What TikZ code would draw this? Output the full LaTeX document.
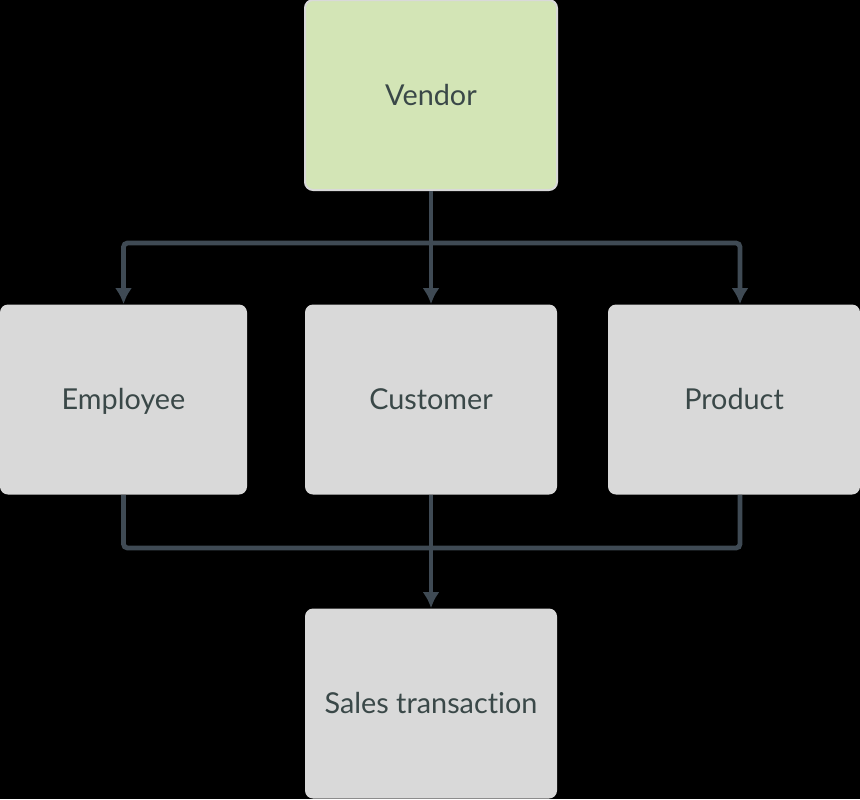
\documentclass[tikz,border=0pt]{standalone}
\usepackage{fontspec}
\setmainfont[Ligatures=NoCommon]{Lato}
\usetikzlibrary{arrows.meta}
\definecolor{boxgray}{HTML}{D9D9D9}
\definecolor{vendorgreen}{HTML}{D3E5B6}
\definecolor{linegray}{HTML}{3F4A54}
\definecolor{textgray}{HTML}{3A4848}
\begin{document}
\begin{tikzpicture}[
  x=0.5pt, y=-0.5pt,
  box/.style={fill=boxgray, rounded corners=4pt, minimum width=126pt, minimum height=95pt, inner sep=0pt, text height=10.4pt, text depth=0pt, font=\fontsize{14.4}{17}\selectfont, text=textgray},
  link/.style={draw=linegray, line width=2.4pt, rounded corners=2pt},
  arrow/.style={link, -{Latex[length=8pt, width=8.5pt]}},
]
  % background
  \fill[black] (0,0) rectangle (860,799);
  \useasboundingbox (0,0) rectangle (860,799);

  % Boxes
  \node[box, fill=vendorgreen, draw=boxgray, line width=1pt] (vendor) at (431, 95) {Vendor};
  \node[box, minimum width=123.5pt] (employee) at (123.5, 399.5) {Employee};
  \node[box] (customer) at (431, 399.5) {Customer};
  \node[box] (product) at (734, 399.5) {Product};
  \node[box] (sales) at (431, 703.5) {Sales transaction};

  % Junctions
  \coordinate (split) at (431, 243);
  \coordinate (merge) at (431, 548);

  % Vendor to the middle row
  \draw[link] (vendor) -- (split);
  \draw[arrow] (split) -| (employee.north);
  \draw[arrow] (split) -- (customer);
  \draw[arrow] (split) -| ([xshift=3pt]product.north);

  % Middle row to sales
  \draw[link] (employee.south) |- (merge) -| ([xshift=3pt]product.south);
  \draw[arrow] (customer) -- (sales);
\end{tikzpicture}
\end{document}
